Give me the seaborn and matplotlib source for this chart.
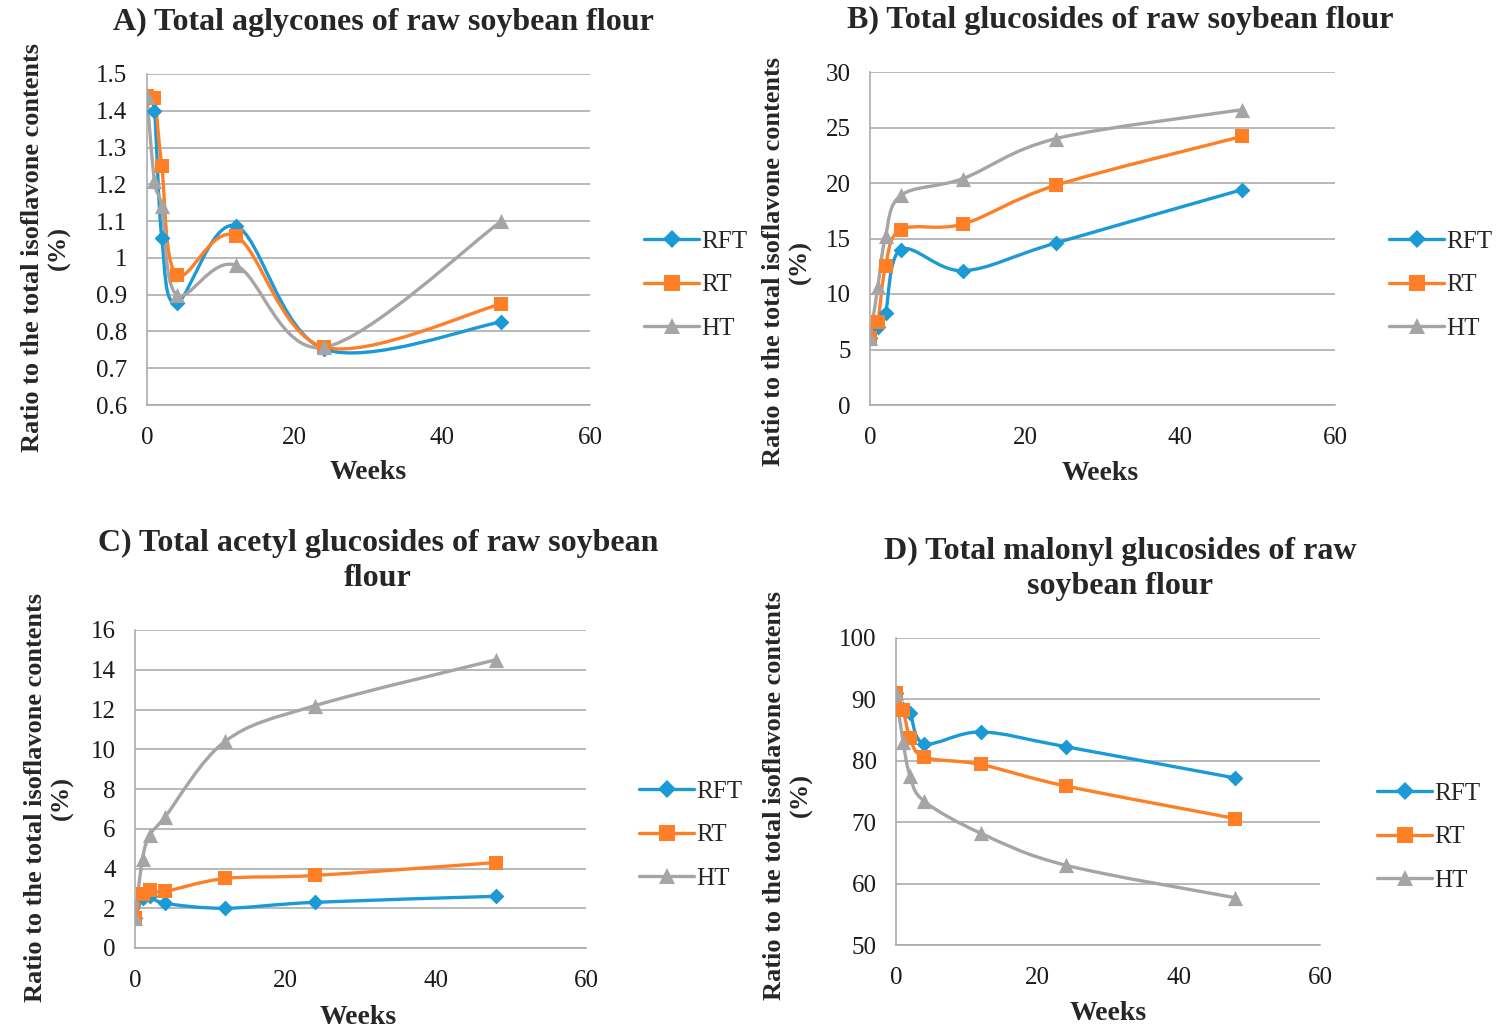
import matplotlib

matplotlib.use("Agg")
import matplotlib.pyplot as plt
import numpy as np
import pandas as pd
import seaborn as sns
from matplotlib.lines import Line2D
from matplotlib.patches import PathPatch
from matplotlib.path import Path
from matplotlib.ticker import FuncFormatter, MultipleLocator

sns.set_theme(style="white")
plt.rcParams["font.family"] = ["Liberation Serif", "DejaVu Serif"]

weeks = [0, 1, 2, 4, 12, 24, 48]
treatments = ["RFT", "RT", "HT"]

# A) aglycones
agly_rft = [1.44, 1.40, 1.055, 0.877, 1.087, 0.752, 0.826]
agly_rt = [1.44, 1.435, 1.25, 0.954, 1.06, 0.757, 0.875]
agly_ht = [1.44, 1.21, 1.14, 0.90, 0.98, 0.757, 1.10]
# B) glucosides
gluc_rft = [6.0, 7.0, 8.3, 14.0, 12.1, 14.6, 19.4]
gluc_rt = [6.0, 7.5, 12.5, 15.8, 16.3, 19.8, 24.2]
gluc_ht = [6.0, 10.6, 15.2, 18.9, 20.4, 24.0, 26.6]
# C) acetyl glucosides
acet_rft = [1.5, 2.5, 2.6, 2.25, 2.0, 2.3, 2.6]
acet_rt = [1.5, 2.7, 2.9, 2.85, 3.5, 3.65, 4.3]
acet_ht = [1.5, 4.5, 5.7, 6.6, 10.4, 12.2, 14.5]
# D) malonyl glucosides
malo_rft = [91.0, 88.5, 87.8, 82.8, 84.7, 82.3, 77.2]
malo_rt = [91.0, 88.3, 83.7, 80.6, 79.4, 75.9, 70.6]
malo_ht = [91.0, 83.1, 77.5, 73.4, 68.2, 63.0, 57.7]

titles = [
    "A) Total aglycones of raw soybean flour",
    "B) Total glucosides of raw soybean flour",
    "C) Total acetyl glucosides of raw soybean\nflour",
    "D) Total malonyl glucosides of raw\nsoybean flour",
]

colors = {"RFT": "#1C9AD6", "RT": "#FF7F27", "HT": "#A5A5A5"}
markers = {"RFT": "D", "RT": "s", "HT": "^"}
msizes = {"RFT": 65, "RT": 95, "HT": 120}


def smooth_path(x, y):
    # Excel-style smoothed line: Bezier with Catmull-Rom control points
    pts = np.column_stack([x, y]).astype(float)
    n = len(pts)
    verts = [pts[0]]
    codes = [Path.MOVETO]
    for i in range(n - 1):
        p0 = pts[i - 1] if i > 0 else pts[i]
        p1 = pts[i]
        p2 = pts[i + 1]
        p3 = pts[i + 2] if i + 2 < n else pts[i + 1]
        verts += [p1 + (p2 - p0) / 6, p2 - (p3 - p1) / 6, p2]
        codes += [Path.CURVE4] * 3
    return Path(verts, codes)


def make_df(rft, rt, ht):
    rows = []
    for name, vals in zip(treatments, [rft, rt, ht]):
        for w, v in zip(weeks, vals):
            rows.append({"Weeks": w, "value": v, "Treatment": name})
    return pd.DataFrame(rows)


panels = [
    dict(df=make_df(agly_rft, agly_rt, agly_ht), ylim=(0.6, 1.5), step=0.1,
         rect=[147, 74, 590, 405], title_xy=(383, 22),
         ylab_xy=(46, 248), weeks_xy=(368, 473), leg_xy=(644, 285)),
    dict(df=make_df(gluc_rft, gluc_rt, gluc_ht), ylim=(0, 30), step=5,
         rect=[870, 72, 1335, 405], title_xy=(1120, 20),
         ylab_xy=(787, 262), weeks_xy=(1100, 474), leg_xy=(1389, 285)),
    dict(df=make_df(acet_rft, acet_rt, acet_ht), ylim=(0, 16), step=2,
         rect=[135, 630, 586, 948], title_xy=(378, 561),
         ylab_xy=(49, 798), weeks_xy=(358, 1017), leg_xy=(639, 835)),
    dict(df=make_df(malo_rft, malo_rt, malo_ht), ylim=(50, 100), step=10,
         rect=[896, 638, 1320, 945], title_xy=(1120, 569),
         ylab_xy=(788, 795), weeks_xy=(1108, 1013), leg_xy=(1377, 837)),
]

W, H = 1497, 1030
fig = plt.figure(figsize=(W / 100, H / 100), dpi=100)
grid_c = "#A6A6A6"

for p, title in zip(panels, titles):
    l, t, r, b = p["rect"]
    ax = fig.add_axes([l / W, 1 - b / H, (r - l) / W, (b - t) / H])
    df = p["df"]
    for name in treatments:
        sub = df[df["Treatment"] == name]
        ax.add_patch(PathPatch(smooth_path(sub["Weeks"], sub["value"]),
                               facecolor="none", edgecolor=colors[name],
                               lw=2.4, zorder=2))
    for name in treatments:
        sns.scatterplot(data=df[df["Treatment"] == name], x="Weeks", y="value",
                        color=colors[name], marker=markers[name],
                        s=msizes[name], linewidth=0, ax=ax, zorder=3,
                        legend=False)
    ax.set_xlim(0, 60)
    ax.set_ylim(*p["ylim"])
    ax.xaxis.set_major_locator(MultipleLocator(20))
    ax.yaxis.set_major_locator(MultipleLocator(p["step"]))
    ax.yaxis.set_major_formatter(FuncFormatter(lambda v, pos: f"{round(v, 2):g}"))
    ax.yaxis.grid(True, color=grid_c, lw=1.1)
    ax.xaxis.grid(False)
    for s in ["top", "right"]:
        ax.spines[s].set_visible(False)
    for s in ["left", "bottom"]:
        ax.spines[s].set_color(grid_c)
        ax.spines[s].set_linewidth(1.1)
    ax.tick_params(length=0, labelsize=18, colors="#1a1a1a")
    ax.tick_params(axis="x", pad=16)
    ax.tick_params(axis="y", pad=14)
    ax.set_xlabel("")
    ax.set_ylabel("")
    ax.set_facecolor("white")

    fig.text(p["title_xy"][0] / W, 1 - p["title_xy"][1] / H, title,
             ha="center", va="center", fontsize=23, fontweight="bold",
             multialignment="center", linespacing=1.25)
    fig.text(p["ylab_xy"][0] / W, 1 - p["ylab_xy"][1] / H,
             "Ratio to the total isoflavone contents\n(%)",
             ha="center", va="center", rotation=90, fontsize=19,
             fontweight="bold", multialignment="center", linespacing=1.2)
    fig.text(p["weeks_xy"][0] / W, 1 - p["weeks_xy"][1] / H, "Weeks",
             ha="center", va="center", fontsize=20, fontweight="bold")

    handles = [Line2D([], [], color=colors[n], lw=2.4, marker=markers[n],
                      markersize=9 if n == "RFT" else 11, markeredgewidth=0)
               for n in treatments]
    fig.legend(handles, treatments, loc="center left",
               bbox_to_anchor=(p["leg_xy"][0] / W, 1 - p["leg_xy"][1] / H),
               frameon=False, fontsize=18, handlelength=2.2,
               handletextpad=0.1, labelspacing=0.85, borderpad=0,
               borderaxespad=0)

fig.savefig("out.png", dpi=100, facecolor="white")
